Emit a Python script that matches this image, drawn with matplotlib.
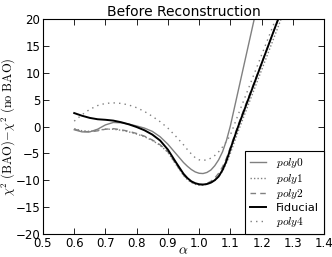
import matplotlib
matplotlib.use("Agg")
import matplotlib.pyplot as plt

plt.rcParams['mathtext.fontset'] = 'cm'

alpha = [0.600, 0.625, 0.650, 0.675, 0.700, 0.725, 0.750, 0.775, 0.800, 0.825,
         0.850, 0.875, 0.900, 0.925, 0.950, 0.9625, 0.975, 0.9875, 1.000, 1.0125,
         1.025, 1.0375, 1.050, 1.0625, 1.075, 1.0875, 1.100, 1.125, 1.150, 1.175,
         1.200, 1.225, 1.250, 1.275, 1.300]

poly0 = [-0.6, -1.0, -1.0, -0.5, 0.3, 0.75, 0.7, 0.45, 0.1, -0.3,
         -0.9, -1.9, -3.3, -5.0, -6.7, -7.4, -8.0, -8.45, -8.7, -8.75,
         -8.55, -8.1, -7.3, -6.2, -4.7, -2.6, 0.1, 6.6, 13.1, 19.6,
         26.1, 32.6, 39.1, 45.6, 52.1]

poly1 = [-0.4, -0.8, -0.9, -0.7, -0.5, -0.5, -0.7, -1.0, -1.4, -1.9,
         -2.6, -3.5, -4.8, -7.0, -9.1, -9.9, -10.4, -10.75, -10.9, -10.9,
         -10.75, -10.45, -10.0, -9.3, -8.3, -6.8, -5.0, -0.9, 2.9, 6.7,
         10.5, 14.3, 18.1, 21.9, 25.7]

poly2 = [-0.5, -0.9, -1.0, -0.8, -0.5, -0.4, -0.6, -0.9, -1.3, -1.8,
         -2.5, -3.4, -4.7, -6.9, -9.0, -9.8, -10.3, -10.65, -10.8, -10.8,
         -10.6, -10.2, -9.6, -8.7, -7.5, -5.9, -3.9, 0.3, 4.2, 8.0,
         11.8, 15.6, 19.4, 23.2, 27.0]

fiducial = [2.5, 2.0, 1.6, 1.35, 1.25, 1.1, 0.8, 0.4, -0.1, -0.7,
            -1.5, -2.6, -4.3, -6.6, -8.8, -9.6, -10.2, -10.55, -10.75, -10.8,
            -10.7, -10.45, -10.0, -9.3, -8.1, -6.4, -4.2, 0.0, 3.9, 7.8,
            11.7, 15.6, 19.5, 23.4, 27.3]

poly4 = [1.0, 2.2, 3.2, 3.9, 4.3, 4.4, 4.3, 4.0, 3.5, 2.8,
         1.9, 0.9, -0.3, -1.8, -3.4, -4.3, -5.1, -5.8, -6.2, -6.3,
         -6.2, -5.9, -5.4, -4.7, -3.8, -2.8, -1.6, 2.2, 5.9, 9.6,
         13.3, 17.0, 20.7, 24.4, 28.1]

xticks = [0.5, 0.6, 0.7, 0.8, 0.9, 1.0, 1.1, 1.2, 1.3, 1.4]
yticks = [-20, -15, -10, -5, 0, 5, 10, 15, 20]

fig = plt.figure(figsize=(3.32, 2.57), dpi=100)
ax = fig.add_axes([0.1295, 0.0895, 0.8465, 0.8365])

ax.plot(alpha, poly0, color='0.5', lw=1.0, ls='-', label=r'$poly0$')
ax.plot(alpha, poly1, color='0.5', lw=1.0, ls=(0, (1, 1.5)), label=r'$poly1$')
ax.plot(alpha, poly2, color='0.5', lw=1.0, ls=(0, (4, 3)), label=r'$poly2$')
ax.plot(alpha, fiducial, color='black', lw=1.4, ls='-', label='Fiducial')
ax.plot(alpha, poly4, color='0.5', lw=1.0, ls=(0, (1, 3, 1, 3)), label=r'$poly4$')

ax.set_xlim(0.5, 1.4)
ax.set_ylim(-20, 20)
ax.set_xticks(xticks)
ax.set_yticks(yticks)
ax.set_xticklabels([f'{t:.1f}' for t in xticks])
ax.set_yticklabels([(u'\u2212' + str(abs(t))) if t < 0 else str(t) for t in yticks])
ax.tick_params(direction='in', top=True, right=True, labelsize=8.5, length=4, width=0.6, pad=2)
for s in ax.spines.values():
    s.set_linewidth(0.8)

ax.set_title('Before Reconstruction', fontsize=10, pad=2)
ax.set_xlabel(r'$\alpha$', fontsize=10)
ax.xaxis.set_label_coords(0.5, -0.045)
ax.set_ylabel(r'$\chi^2\ (\rm BAO)\!-\!\chi^2\ (\rm no\ BAO)$', fontsize=9)
ax.yaxis.set_label_coords(-0.093, 0.5)

leg = ax.legend(loc='lower right', borderaxespad=0,
                fontsize=8.2, handlelength=1.35, handletextpad=0.9, labelspacing=0.15,
                borderpad=0.45, fancybox=False, framealpha=1)
leg.get_frame().set_edgecolor('black')
leg.get_frame().set_linewidth(0.8)

fig.savefig('out.png', dpi=100)
